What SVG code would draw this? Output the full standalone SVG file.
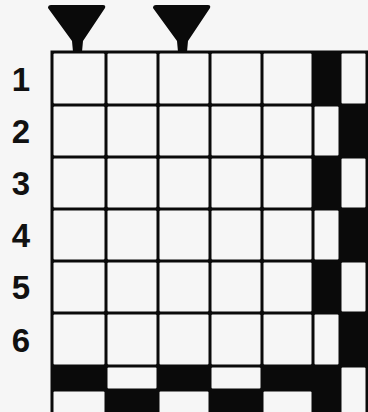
<svg xmlns="http://www.w3.org/2000/svg" width="368" height="412" viewBox="0 0 368 412">
<style>
.c{fill:#f6f6f6}
.lbl{font-family:"Liberation Sans","DejaVu Sans",sans-serif;font-weight:bold;font-size:33px;fill:#111;text-anchor:middle}
.tri{fill:#0a0a0a}
</style>
<defs>
<path id="t" d="M48,8 Q48,5 51,5 L103,5 Q106,5 105,8 L83,41 L82,52 L73,52 L72,41 Z"/>
</defs>
<rect width="368" height="412" fill="#f6f6f6"/>
<g id="markers" class="tri">
<use href="#t"/>
<use href="#t" x="105"/>
</g>
<g id="labels" class="lbl">
<text x="21" y="91">1</text>
<text x="21" y="143">2</text>
<text x="21" y="195">3</text>
<text x="21" y="247">4</text>
<text x="21" y="299">5</text>
<text x="21" y="352">6</text>
</g>
<g id="grid">
<rect x="50.5" y="50.5" width="317.5" height="361.5" fill="#0a0a0a"/>
<g class="c">
<!-- row 1 -->
<rect x="53.5" y="53.5" width="51" height="50" rx="1"/>
<rect x="107.5" y="53.5" width="49" height="50" rx="1"/>
<rect x="159.5" y="53.5" width="49" height="50" rx="1"/>
<rect x="211.5" y="53.5" width="49" height="50" rx="1"/>
<rect x="263.5" y="53.5" width="48" height="50" rx="1"/>
<rect x="341.5" y="53.5" width="24" height="50" rx="1"/>
<!-- row 2 -->
<rect x="53.5" y="106.5" width="51" height="49" rx="1"/>
<rect x="107.5" y="106.5" width="49" height="49" rx="1"/>
<rect x="159.5" y="106.5" width="49" height="49" rx="1"/>
<rect x="211.5" y="106.5" width="49" height="49" rx="1"/>
<rect x="263.5" y="106.5" width="48" height="49" rx="1"/>
<rect x="314.5" y="106.5" width="24" height="49" rx="1"/>
<!-- row 3 -->
<rect x="53.5" y="158.5" width="51" height="49" rx="1"/>
<rect x="107.5" y="158.5" width="49" height="49" rx="1"/>
<rect x="159.5" y="158.5" width="49" height="49" rx="1"/>
<rect x="211.5" y="158.5" width="49" height="49" rx="1"/>
<rect x="263.5" y="158.5" width="48" height="49" rx="1"/>
<rect x="341.5" y="158.5" width="24" height="49" rx="1"/>
<!-- row 4 -->
<rect x="53.5" y="210.5" width="51" height="49" rx="1"/>
<rect x="107.5" y="210.5" width="49" height="49" rx="1"/>
<rect x="159.5" y="210.5" width="49" height="49" rx="1"/>
<rect x="211.5" y="210.5" width="49" height="49" rx="1"/>
<rect x="263.5" y="210.5" width="48" height="49" rx="1"/>
<rect x="314.5" y="210.5" width="24" height="49" rx="1"/>
<!-- row 5 -->
<rect x="53.5" y="262.5" width="51" height="49" rx="1"/>
<rect x="107.5" y="262.5" width="49" height="49" rx="1"/>
<rect x="159.5" y="262.5" width="49" height="49" rx="1"/>
<rect x="211.5" y="262.5" width="49" height="49" rx="1"/>
<rect x="263.5" y="262.5" width="48" height="49" rx="1"/>
<rect x="341.5" y="262.5" width="24" height="49" rx="1"/>
<!-- row 6 -->
<rect x="53.5" y="314.5" width="51" height="50" rx="1"/>
<rect x="107.5" y="314.5" width="49" height="50" rx="1"/>
<rect x="159.5" y="314.5" width="49" height="50" rx="1"/>
<rect x="211.5" y="314.5" width="49" height="50" rx="1"/>
<rect x="263.5" y="314.5" width="48" height="50" rx="1"/>
<rect x="314.5" y="314.5" width="24" height="50" rx="1"/>
<!-- row 7a -->
<rect x="107.5" y="367.5" width="49" height="21" rx="1"/>
<rect x="211.5" y="367.5" width="49" height="21" rx="1"/>
<rect x="341.5" y="367.5" width="24" height="50" rx="1"/>
<!-- row 7b -->
<rect x="53.5" y="391.5" width="51" height="25" rx="1"/>
<rect x="159.5" y="391.5" width="49" height="25" rx="1"/>
<rect x="263.5" y="391.5" width="48" height="25" rx="1"/>
</g>
</g>
</svg>
